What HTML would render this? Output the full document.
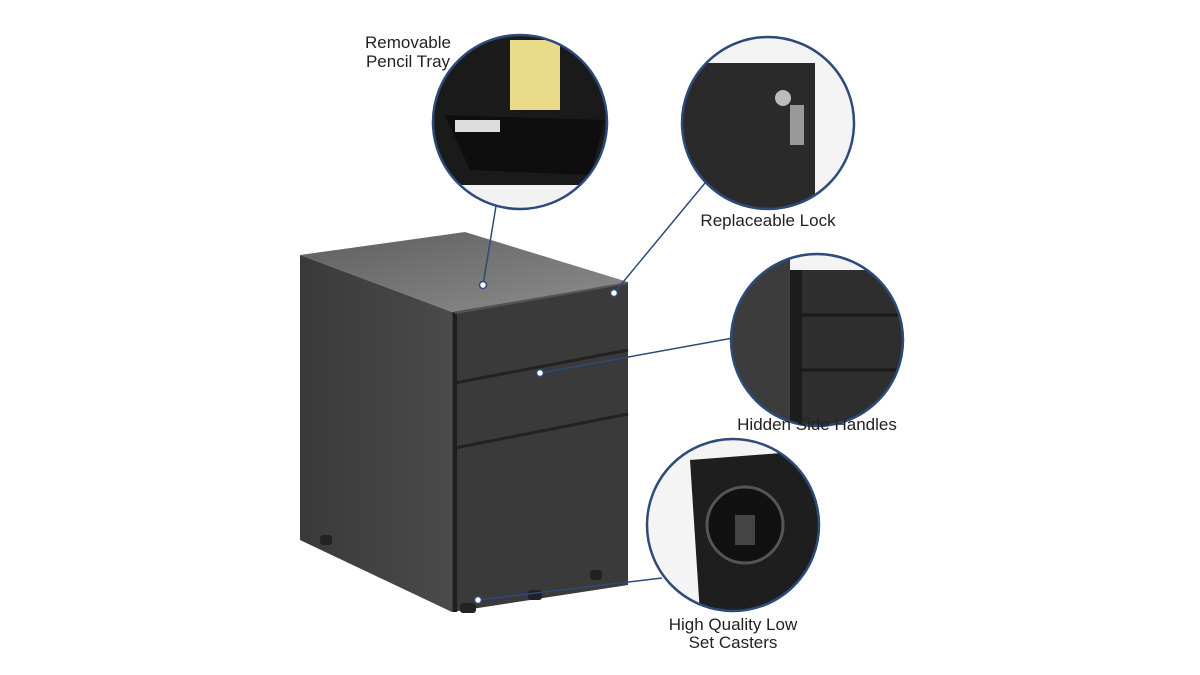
<!DOCTYPE html>
<html><head><style>
html,body{margin:0;padding:0;background:#fff;}
svg{display:block}
text{font-family:"Liberation Sans",sans-serif;font-size:17px;fill:#222;text-anchor:middle}
</style></head><body>
<svg width="1200" height="675" viewBox="0 0 1200 675">
<defs>
<linearGradient id="top" x1="0" y1="0" x2="1" y2="1"><stop offset="0" stop-color="#5e5e5e"/><stop offset="1" stop-color="#8e8e8e"/></linearGradient>
<linearGradient id="side" x1="0" y1="0" x2="1" y2="0"><stop offset="0" stop-color="#3a3a3a"/><stop offset="1" stop-color="#4a4a4a"/></linearGradient>
<clipPath id="c1"><circle cx="520" cy="122" r="87"/></clipPath>
<clipPath id="c2"><circle cx="768" cy="123" r="86"/></clipPath>
<clipPath id="c3"><circle cx="817" cy="340" r="86"/></clipPath>
<clipPath id="c4"><circle cx="733" cy="525" r="86"/></clipPath>
</defs>
<!-- cabinet -->
<polygon points="300,255 465,232 628,282 452,312" fill="url(#top)"/>
<polygon points="300,255 452,312 452,612 300,540" fill="url(#side)"/>
<polygon points="452,312 628,282 628,585 452,612" fill="#3a3a3a"/>
<line x1="455" y1="383" x2="628" y2="350" stroke="#222" stroke-width="3"/>
<line x1="455" y1="448" x2="628" y2="414" stroke="#222" stroke-width="3"/>
<line x1="455" y1="313" x2="455" y2="612" stroke="#1e1e1e" stroke-width="4"/>
<line x1="455" y1="313" x2="628" y2="283" stroke="#555" stroke-width="2"/>
<rect x="320" y="535" width="12" height="10" rx="3" fill="#222"/>
<rect x="460" y="603" width="16" height="10" rx="3" fill="#222"/>
<rect x="590" y="570" width="12" height="10" rx="3" fill="#222"/>
<rect x="528" y="590" width="14" height="10" rx="3" fill="#222"/>
<!-- connectors -->
<g stroke="#2d4a7a" stroke-width="1.5">
<line x1="483" y1="285" x2="496" y2="206"/>
<line x1="614" y1="293" x2="705" y2="183"/>
<line x1="540" y1="373" x2="733" y2="338"/>
<line x1="478" y1="600" x2="662" y2="578"/>
</g>
<g fill="#fff" stroke="#2d4a7a" stroke-width="1.5">
<circle cx="483" cy="285" r="3.5"/><circle cx="614" cy="293" r="3.5"/><circle cx="540" cy="373" r="3.5"/><circle cx="478" cy="600" r="3.5"/>
</g>
<!-- circle 1 tray -->
<g clip-path="url(#c1)">
<rect x="430" y="30" width="180" height="180" fill="#1a1a1a"/>
<rect x="510" y="40" width="50" height="70" fill="#e8dc8a"/>
<polygon points="445,115 605,120 590,175 470,170" fill="#0e0e0e"/>
<rect x="455" y="120" width="45" height="12" fill="#ddd"/>
<rect x="430" y="185" width="180" height="40" fill="#f2f2f2"/>
</g>
<circle cx="520" cy="122" r="87" fill="none" stroke="#2d4a7a" stroke-width="2.5"/>
<!-- circle 2 lock -->
<g clip-path="url(#c2)">
<rect x="680" y="35" width="180" height="180" fill="#2a2a2a"/>
<rect x="815" y="35" width="50" height="180" fill="#f4f4f4"/>
<rect x="680" y="35" width="180" height="28" fill="#f4f4f4"/>
<circle cx="783" cy="98" r="8" fill="#bbb"/>
<rect x="790" y="105" width="14" height="40" fill="#999"/>
</g>
<circle cx="768" cy="123" r="86" fill="none" stroke="#2d4a7a" stroke-width="2.5"/>
<!-- circle 3 handles -->
<g clip-path="url(#c3)">
<rect x="730" y="254" width="175" height="175" fill="#2e2e2e"/>
<rect x="730" y="254" width="175" height="16" fill="#f4f4f4"/>
<rect x="730" y="254" width="60" height="175" fill="#3c3c3c"/>
<rect x="790" y="270" width="12" height="160" fill="#1c1c1c"/>
<line x1="800" y1="315" x2="905" y2="315" stroke="#1a1a1a" stroke-width="3"/>
<line x1="800" y1="370" x2="905" y2="370" stroke="#1a1a1a" stroke-width="3"/>
</g>
<circle cx="817" cy="340" r="86" fill="none" stroke="#2d4a7a" stroke-width="2.5"/>
<!-- circle 4 casters -->
<g clip-path="url(#c4)">
<rect x="645" y="438" width="176" height="176" fill="#f4f4f4"/>
<polygon points="690,460 821,450 821,614 700,614" fill="#1e1e1e"/>
<circle cx="745" cy="525" r="38" fill="#111" stroke="#555" stroke-width="3"/>
<rect x="735" y="515" width="20" height="30" fill="#444"/>
</g>
<circle cx="733" cy="525" r="86" fill="none" stroke="#2d4a7a" stroke-width="2.5"/>
<!-- labels -->
<text x="408" y="48">Removable</text>
<text x="408" y="67">Pencil Tray</text>
<text x="768" y="226">Replaceable Lock</text>
<text x="817" y="430">Hidden Side Handles</text>
<text x="733" y="630">High Quality Low</text>
<text x="733" y="648">Set Casters</text>
</svg>
</body></html>
